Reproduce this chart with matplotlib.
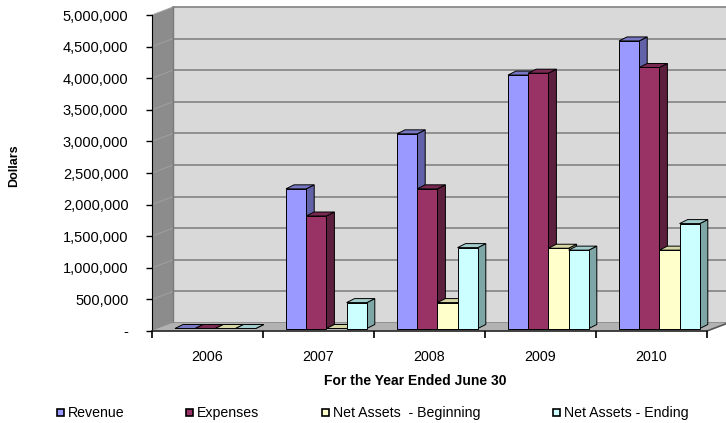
import matplotlib
matplotlib.use("Agg")
import matplotlib.pyplot as plt
from matplotlib.patches import Polygon, Rectangle

plt.rcParams['font.family'] = ['Liberation Sans', 'DejaVu Sans']

# data
years = ['2006', '2007', '2008', '2009', '2010']
revenue = [0, 2210000, 3080000, 4010000, 4550000]
expenses = [0, 1780000, 2210000, 4040000, 4130000]
assets_begin = [0, 0, 410000, 1270000, 1240000]
assets_end = [0, 410000, 1280000, 1240000, 1660000]

series_names = ['Revenue', 'Expenses', 'Net Assets  - Beginning', 'Net Assets - Ending']
series_values = [revenue, expenses, assets_begin, assets_end]
# front, top, side colours of each series
face_colors = [('#9999FF', '#7777C4', '#6262A8'),
               ('#993366', '#7A2952', '#5C1F3D'),
               ('#FFFFCC', '#D6D6A6', '#A8A888'),
               ('#CCFFFF', '#A3CCCC', '#7FA6A6')]

YMAX = 5000000
W, H = 726, 423
fig = plt.figure(figsize=(W / 100, H / 100), dpi=100)
ax = fig.add_axes([152 / W, (H - 331) / H, (707 - 152) / W, 316 / H])
ax.set_xlim(0, len(years))
ax.set_ylim(0, YMAX)
ax.set_facecolor('none')

# pixel -> data helpers
px_x = len(years) / (707 - 152)
px_y = YMAX / 316.0

# depth of the 3d box
ddx = 21 * px_x
ddy = 8 * px_y
xr = len(years) + 30 * px_x

def poly(pts, fc, ec='none', lw=0.8, z=1):
    ax.add_patch(Polygon(pts, closed=True, facecolor=fc, edgecolor=ec,
                         linewidth=lw, zorder=z, clip_on=False))

# walls and floor
poly([(ddx, ddy), (xr, ddy), (xr, YMAX + ddy), (ddx, YMAX + ddy)], '#D9D9D9', z=0)
poly([(0, 0), (ddx, ddy), (ddx, YMAX + ddy), (0, YMAX)], '#8C8C8C', z=0)
poly([(0, 0), (len(years), 0), (len(years) + ddx, ddy), (ddx, ddy)], '#B2B2B2', z=0.5)

for v in range(0, YMAX + 1, 500000):
    ax.plot([ddx, xr], [v + ddy, v + ddy], color='#8A8A8A', lw=1.3, zorder=0.3,
            clip_on=False)
    ax.plot([0, ddx], [v, v + ddy], color='#A0A0A0', lw=0.7, zorder=0.3,
            clip_on=False)
ax.plot([ddx, ddx], [ddy, YMAX + ddy], color='#7A7A7A', lw=1, zorder=0.4, clip_on=False)
ax.plot([len(years), len(years) + ddx], [0, ddy], color='#555555', lw=1.2, zorder=0.6,
        clip_on=False)

# bars
bar_w = 20.2 * px_x
bar_off = 23 * px_x
base = 2.5 * px_y
sdx = 8 * px_x
sdy = 4 * px_y
for i in range(len(years)):
    for k, vals in enumerate(series_values):
        x0 = i + bar_off + k * bar_w
        x1 = x0 + bar_w
        y0 = base
        y1 = base + vals[i]
        front, top, side = face_colors[k]
        z = 2 + i * 0.1 + k * 0.01
        poly([(x1, y0), (x1 + sdx, y0 + sdy), (x1 + sdx, y1 + sdy), (x1, y1)], side, 'black', 0.7, z)
        poly([(x0, y1), (x1, y1), (x1 + sdx, y1 + sdy), (x0 + sdx, y1 + sdy)], top, 'black', 0.7, z)
        if vals[i] > 0:
            ax.add_patch(Rectangle((x0, y0), bar_w, vals[i], facecolor=front,
                                   edgecolor='black', linewidth=0.7, zorder=z,
                                   clip_on=False))

# axes
for s in ['top', 'right']:
    ax.spines[s].set_visible(False)
ax.spines['left'].set_color('black')
ax.spines['bottom'].set_color('#333333')
ax.spines['bottom'].set_linewidth(1.3)
ax.spines['left'].set_zorder(1)
ax.spines['bottom'].set_zorder(1)

yt = list(range(0, YMAX + 1, 500000))
ax.set_yticks(yt)
ax.set_yticklabels(['-' if v == 0 else f'{v:,}' for v in yt], fontsize=10.5)
ax.tick_params(axis='y', length=4, width=1, pad=13, colors='black')

ax.set_xticks(range(len(years) + 1))
ax.set_xticklabels([])
ax.set_xticks([i + 0.5 for i in range(len(years))], minor=True)
ax.set_xticklabels(years, minor=True, fontsize=10.3)
ax.tick_params(axis='x', which='major', length=5, width=1.2, direction='out')
ax.tick_params(axis='x', which='minor', length=0, pad=14)

fig.text(415 / W, 1 - 381 / H, 'For the Year Ended June 30', ha='center', va='center',
         fontsize=10, fontweight='bold')
fig.text(14 / W, 1 - 166 / H, 'Dollars', ha='center', va='center', rotation=90,
         fontsize=9, fontweight='bold')

# legend
leg_x = [57, 186, 322, 553]
for k, name in enumerate(series_names):
    fig.patches.append(Rectangle((leg_x[k] / W, 1 - 416 / H), 7 / W, 7 / H,
                                 transform=fig.transFigure, facecolor=face_colors[k][0],
                                 edgecolor='black', linewidth=1.2))
    fig.text((leg_x[k] + 11) / W, 1 - 413 / H, name, ha='left', va='center', fontsize=10.2)

fig.savefig('out.png', dpi=100)
